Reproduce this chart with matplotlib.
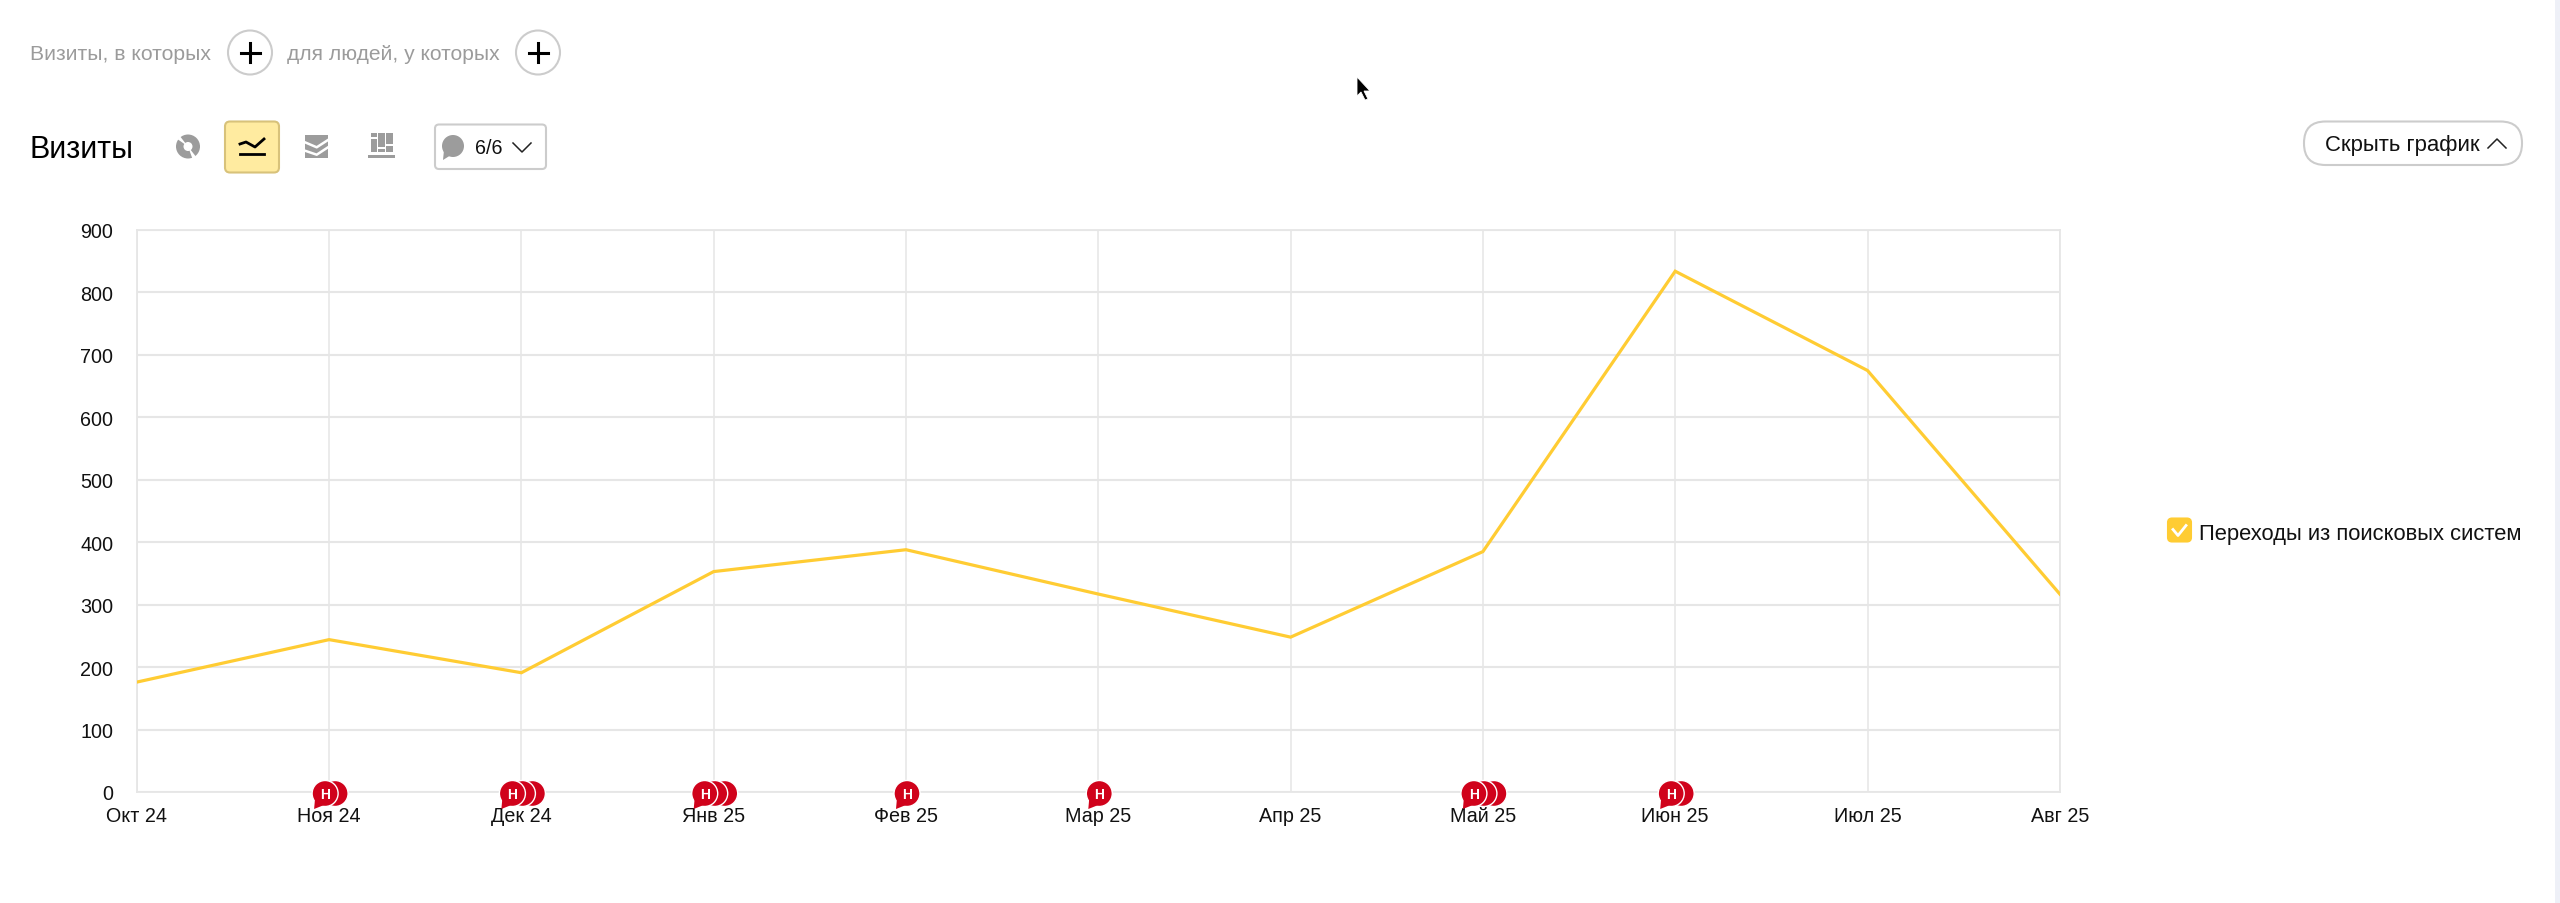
import numpy as np
import matplotlib
matplotlib.use('Agg')
import matplotlib.pyplot as plt
from matplotlib.patches import Circle, FancyBboxPatch, Polygon, Rectangle, Wedge

plt.rcParams['font.family'] = ['Liberation Sans', 'DejaVu Sans']

# data
months = ['Окт 24', 'Ноя 24', 'Дек 24', 'Янв 25', 'Фев 25', 'Мар 25', 'Апр 25',
          'Май 25', 'Июн 25', 'Июл 25', 'Авг 25']
visits = [176, 244, 191, 353, 388, 317, 248, 385, 834, 675, 317]
y_ticks = [0, 100, 200, 300, 400, 500, 600, 700, 800, 900]
note_months = [1, 2, 3, 4, 5, 7, 8]
note_counts = [2, 3, 3, 1, 1, 3, 2]
series_name = 'Переходы из поисковых систем'

W, H = 2560, 904
YELLOW = '#ffcc33'
GRID = '#e6e6e6'
ICON = '#9c9c9c'
TEXT = '#111111'
RED = '#d0021b'

fig = plt.figure(figsize=(W / 100, H / 100), dpi=100, facecolor='white')

# main chart
ax = fig.add_axes([136.8 / W, 1 - 793 / H, 1923 / W, 562 / H])
ax.plot(range(len(months)), visits, color=YELLOW, lw=2.3, solid_joinstyle='miter', zorder=3)
ax.set_xlim(0, len(months) - 1)
ax.set_ylim(0, 900)
ax.set_xticks(range(len(months)))
ax.set_xticklabels(months)
ax.set_yticks(y_ticks)
ax.grid(True, axis='y', color=GRID, lw=1.5)
ax.grid(True, axis='x', color=GRID, lw=1.1)
ax.set_axisbelow(True)
for s in ax.spines.values():
    s.set_color(GRID)
    s.set_linewidth(1.3)
ax.tick_params(length=0, labelsize=14.2, labelcolor=TEXT)
ax.tick_params(axis='x', pad=10)
ax.tick_params(axis='y', pad=17)

# overlay in pixels for the page controls
ui = fig.add_axes([0, 0, 1, 1], zorder=5)
ui.set_xlim(0, W)
ui.set_ylim(H, 0)
ui.axis('off')
ui.patch.set_alpha(0)


def box(x0, y0, x1, y1, r, fc, ec, lw=1.5):
    ui.add_patch(FancyBboxPatch((x0 + r, y0 + r), x1 - x0 - 2 * r, y1 - y0 - 2 * r,
                                boxstyle='round,pad=%f,rounding_size=%f' % (r, r),
                                fc=fc, ec=ec, lw=lw))


def chevron(x0, x1, ytop, ybot, color='#222222'):
    ui.plot([x0, (x0 + x1) / 2, x1], [ytop, ybot, ytop], color=color, lw=1.1)


# filter row
ui.text(30, 54.5, 'Визиты, в которых', fontsize=15.2, color='#9b9b9b', va='center')
ui.text(287, 54.5, 'для людей, у которых', fontsize=15.1, color='#9b9b9b', va='center')
for cx in [250, 538]:
    ui.add_patch(Circle((cx, 53.5), 22, fc='white', ec='#cccccc', lw=1.5))
    ui.plot([cx - 9.5, cx + 9.5], [53.5, 53.5], color='black', lw=2.2)
    ui.plot([cx, cx], [44, 63], color='black', lw=2.2)

# title and chart type buttons
ui.text(30, 149.5, 'Визиты', fontsize=22, color='black', va='center')

ui.add_patch(Circle((188, 147.5), 12, fc=ICON))
ui.add_patch(Circle((188, 147.5), 4.5, fc='white'))
ui.add_patch(Wedge((188, 147.5), 13, 215, 232, fc='white'))
ui.add_patch(Wedge((188, 147.5), 13, 52, 70, fc='white'))

box(225, 122.5, 279, 173.5, 5, '#ffeba0', '#d8c27a')
ui.plot([240, 246, 255, 264], [145, 143, 148, 140], color='black', lw=2)
ui.plot([240, 264], [155, 155], color='black', lw=2)

ui.add_patch(Rectangle((305, 136), 23, 23, fc=ICON))
ui.plot([305, 316.7, 328], [143.3, 148.3, 141], color='white', lw=1.8)
ui.plot([305, 316.7, 328], [151.7, 155.7, 148.3], color='white', lw=1.8)

for x0, y0, w, h in [(371, 134, 6, 4), (371, 140, 6, 13), (378, 134, 7, 14), (378, 150, 7, 3),
                     (386, 134, 7, 11), (386, 147, 7, 6), (368, 156, 27, 3)]:
    ui.add_patch(Rectangle((x0, y0), w, h, fc=ICON))

box(435, 125.5, 546, 170, 4, 'white', '#cccccc')
ui.add_patch(Circle((453, 147), 11, fc=ICON))
ui.add_patch(Polygon([[444, 151], [451, 156], [443, 161]], fc=ICON))
ui.text(475, 148, '6/6', fontsize=14.2, color=TEXT, va='center')
chevron(513, 531, 144, 153)

# hide button
box(2304, 122.5, 2522, 166, 21.5, 'white', '#cccccc')
ui.text(2325, 145.5, 'Скрыть график', fontsize=15.9, color=TEXT, va='center')
chevron(2488, 2506, 149, 140)

# legend
box(2168, 519.5, 2191, 542.5, 4, YELLOW, YELLOW)
ui.plot([2173, 2178, 2186], [530.5, 536.5, 526.5], color='white', lw=2)
ui.text(2199, 534.5, series_name, fontsize=15.85, color=TEXT, va='center')

# notes sitting on the axis
for m, n in zip(note_months, note_counts):
    px, py = ax.transData.transform((m, 0))
    py = H - py
    first = px - {1: -1, 2: 4, 3: 9}[n]
    for i in reversed(range(n)):
        cx = first + 10 * i
        ui.add_patch(Circle((cx, py + 1.5), 13, fc=RED, ec='white', lw=1))
    ui.add_patch(Polygon([[first - 10, py + 6], [first - 11, py + 17], [first - 1, py + 13]],
                         fc=RED, ec='none'))
    ui.text(first, py + 2, 'Н', fontsize=10, fontweight='bold', color='white',
            ha='center', va='center')

# mouse pointer
ui.add_patch(Polygon([[1357, 78], [1357, 97], [1361, 93], [1365, 101], [1368, 100],
                      [1364, 92], [1370, 92]], fc='black', ec='white', lw=0.6))

# page scrollbar edge
ui.add_patch(Rectangle((2555, 0), 5, H, fc='#eef0f7', ec='none'))

fig.savefig('out.png', dpi=100)
